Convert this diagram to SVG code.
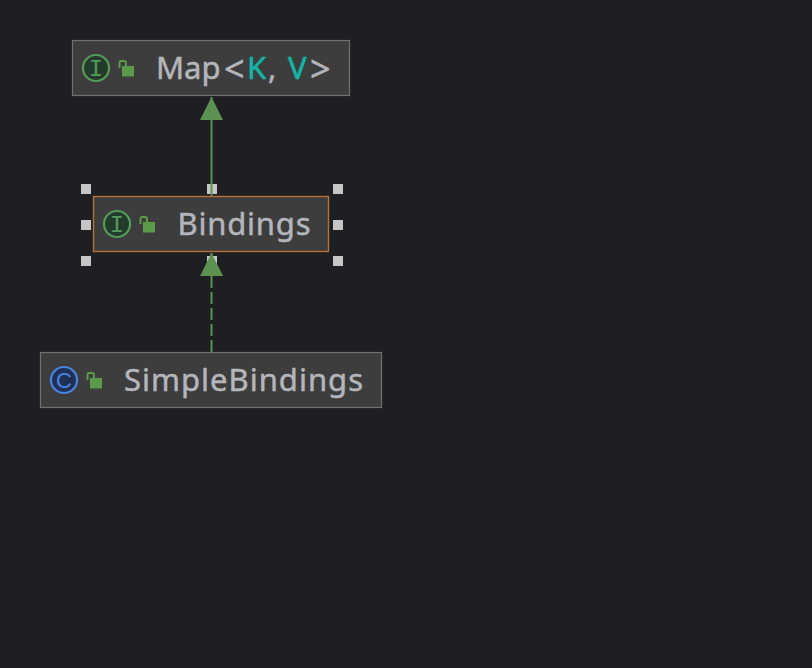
<svg xmlns="http://www.w3.org/2000/svg" width="812" height="668" viewBox="0 0 812 668">
<defs>
<marker id="tri" markerUnits="userSpaceOnUse" markerWidth="24" markerHeight="24" refX="23" refY="12" orient="auto"><path d="M0,0.5 L23,12 L0,23.5 Z" fill="#5c9150"/></marker>
<g id="lock"><path d="M1.500,8 V2.500 Q1.500,1 3,1 H6 Q8,1 8,3 V6" fill="none" stroke="#5a9a48" stroke-width="2"/><rect x="4" y="6" width="12" height="10.500" fill="#5a9a48"/></g>
</defs>
<style>
.box{fill:#3d3d3d;stroke:#6f7172;stroke-width:1.200}
.sel{fill:#3d3d3d;stroke:#b5713a;stroke-width:1.400}
.lbl{font-family:"Noto Sans",sans-serif;font-size:31px;fill:#b4b6bc;stroke:#b4b6bc;stroke-width:0.500}
.tp{fill:#12b5a6;stroke:#12b5a6}
.br{font-size:36px}
.ifc{fill:#243a2a;stroke:#559a5a;stroke-width:2.200}
.cls{fill:#1f3054;stroke:#4a82e0;stroke-width:2.200}
.h{fill:#c6c6c6}
.edge{fill:none;stroke:#5c9150;stroke-width:2}
.gl{font-family:"Liberation Mono",monospace;font-size:24px;text-anchor:middle;font-weight:400}
.glc{font-family:"Liberation Sans",sans-serif;font-size:22px;text-anchor:middle}
</style>
<rect width="812" height="668" fill="#1e1f22"/>
<g id="handles">
<rect class="h" x="81" y="184" width="10" height="10"/><rect class="h" x="207" y="184" width="10" height="10"/><rect class="h" x="333" y="184" width="10" height="10"/>
<rect class="h" x="81" y="220" width="10" height="10"/><rect class="h" x="333" y="220" width="10" height="10"/>
<rect class="h" x="81" y="256" width="10" height="10"/><rect class="h" x="207" y="256" width="10" height="10"/><rect class="h" x="333" y="256" width="10" height="10"/>
</g>
<g id="connectors">
<path class="edge" d="M211.500,197 V97" marker-end="url(#tri)"/>
<path class="edge" d="M211.500,352 V253" stroke-dasharray="12 4" marker-end="url(#tri)"/>
</g>
<g id="map">
<rect class="box" x="72.500" y="40.500" width="277" height="55"/>
<circle class="ifc" cx="96" cy="68" r="13"/><text class="gl" x="96" y="75.500" fill="#559a5a">I</text>
<use href="#lock" x="118" y="60"/>
<text class="lbl" y="79"><tspan x="156">Map</tspan><tspan class="br" x="224" y="82">&lt;</tspan><tspan class="tp" x="247" y="79">K</tspan><tspan x="268">,</tspan><tspan class="tp" x="288">V</tspan><tspan class="br" x="310" y="82">&gt;</tspan></text>
</g>
<g id="bindings">
<rect class="sel" x="93.500" y="196.500" width="235" height="55"/>
<circle class="ifc" cx="117" cy="224" r="13"/><text class="gl" x="117" y="231.500" fill="#559a5a">I</text>
<use href="#lock" x="139" y="216"/>
<text class="lbl" x="177.500" y="235" textLength="133">Bindings</text>
</g>
<g id="simplebindings">
<rect class="box" x="40.500" y="352.500" width="341" height="55"/>
<circle class="cls" cx="64" cy="380" r="13"/><text class="glc" x="64" y="388" fill="#4a82e0">C</text>
<use href="#lock" x="86" y="372"/>
<text class="lbl" x="124" y="391" textLength="239">SimpleBindings</text>
</g>
</svg>
